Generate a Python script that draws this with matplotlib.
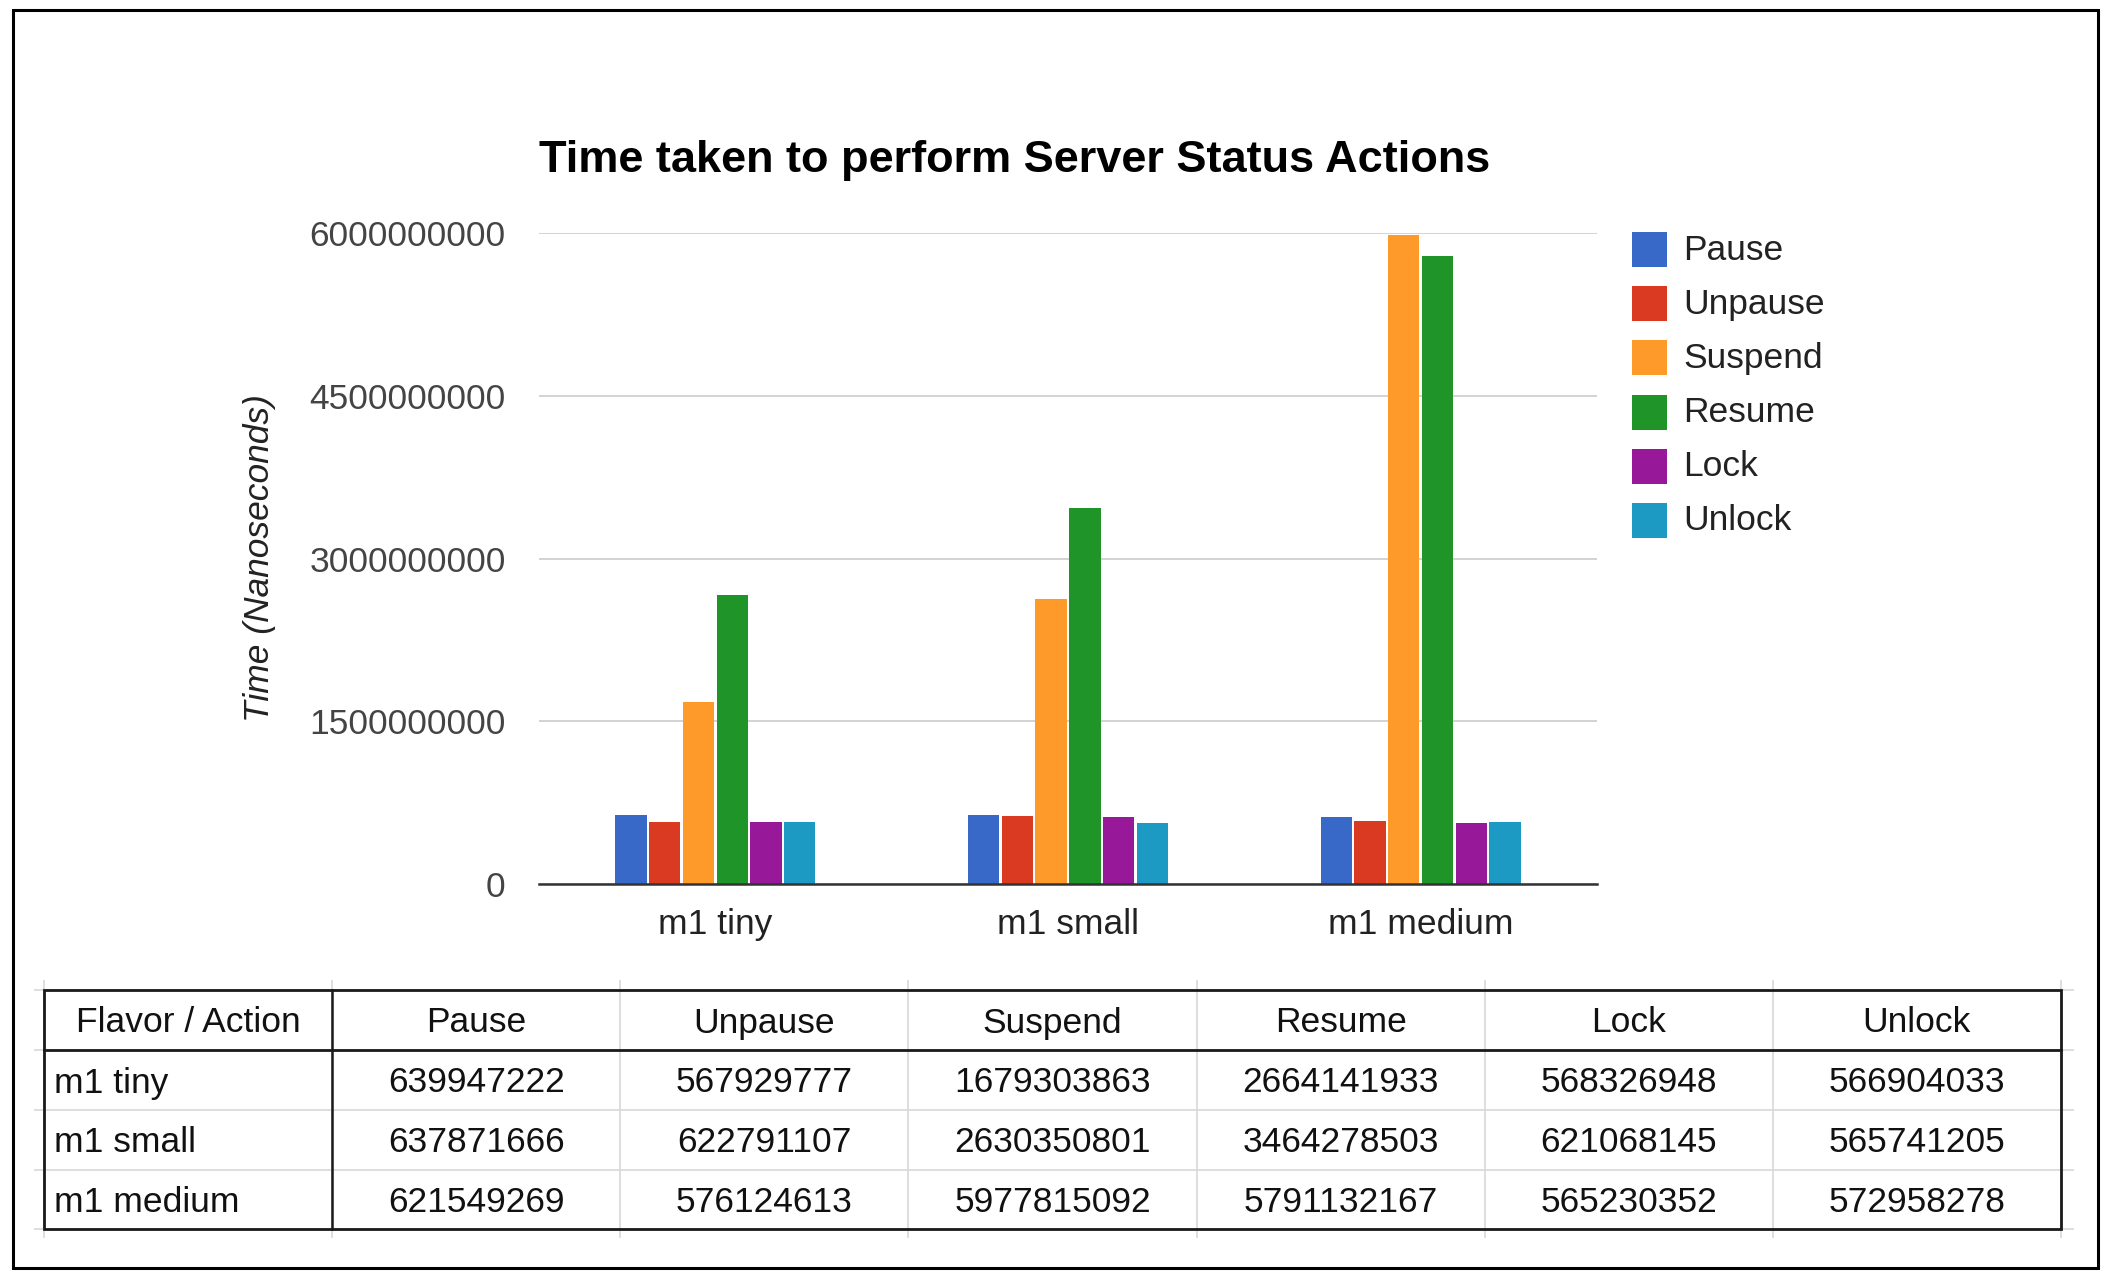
import matplotlib
matplotlib.use("Agg")
import matplotlib.pyplot as plt
from matplotlib.patches import Rectangle
import numpy as np

plt.rcParams['font.family'] = ['Liberation Sans', 'DejaVu Sans']

# ---------------- data ----------------
title = "Time taken to perform Server Status Actions"
y_label = "Time (Nanoseconds)"
flavors = ["m1 tiny", "m1 small", "m1 medium"]
actions = ["Pause", "Unpause", "Suspend", "Resume", "Lock", "Unlock"]
pause = [639947222, 637871666, 621549269]
unpause = [567929777, 622791107, 576124613]
suspend = [1679303863, 2630350801, 5977815092]
resume = [2664141933, 3464278503, 5791132167]
lock = [568326948, 621068145, 565230352]
unlock = [566904033, 565741205, 572958278]
series = [pause, unpause, suspend, resume, lock, unlock]
colors = ['#3869c9', '#da3a21', '#fd9a29', '#1e9429', '#97199a', '#1c9ac4']
y_ticks = [0, 1500000000, 3000000000, 4500000000, 6000000000]
y_tick_labels = ["0", "1500000000", "3000000000", "4500000000", "6000000000"]
table_header = "Flavor / Action"

# ---------------- figure ----------------
W, H = 2112, 1280
fig = plt.figure(figsize=(W / 100, H / 100), dpi=100)
FS = 25.5

ax_l, ax_r, ax_t, ax_b = 539, 1597, 233, 884
ax = fig.add_axes([ax_l / W, 1 - ax_b / H, (ax_r - ax_l) / W, (ax_b - ax_t) / H])
ax.set_zorder(1)

n = len(actions)
pitch = 0.573 / n
x = np.arange(len(flavors))
for i, (vals, c) in enumerate(zip(series, colors)):
    offs = (i - (n - 1) / 2) * pitch
    ax.bar(x + offs, vals, width=pitch * 0.93, color=c, zorder=3, linewidth=0)

ax.set_xlim(-0.5, len(flavors) - 0.5)
ax.set_ylim(0, 6000000000)
ax.set_yticks(y_ticks)
ax.set_yticklabels(y_tick_labels)
ax.set_xticks(x)
ax.set_xticklabels(flavors)
ax.tick_params(axis='y', length=0, pad=24, labelsize=FS, labelcolor='#444444')
ax.tick_params(axis='x', length=0, pad=17, labelsize=FS, labelcolor='#222222')
for sp in ['top', 'right', 'left']:
    ax.spines[sp].set_visible(False)
ax.spines['bottom'].set_color('#333333')
ax.spines['bottom'].set_linewidth(1.8)
ax.spines['bottom'].set_zorder(4)
ax.yaxis.grid(True, color='#cccccc', linewidth=1.2, zorder=0)
ax.set_axisbelow(True)

fig.text(ax_l / W, 1 - 172 / H, title, ha='left', va='baseline',
         fontsize=32.5, fontweight='bold', color='#000000')
fig.text(259 / W, 1 - ((ax_t + ax_b) / 2) / H, y_label, rotation=90,
         ha='center', va='center', fontsize=FS, style='italic', color='#222222')

# ---------------- overlay (legend, table, border) ----------------
ov = fig.add_axes([0, 0, 1, 1])
ov.set_xlim(0, W)
ov.set_ylim(H, 0)
ov.axis('off')
ov.patch.set_alpha(0)
ov.set_zorder(2)

# legend
for i, (name, c) in enumerate(zip(actions, colors)):
    y0 = 232 + 54.2 * i
    ov.add_patch(Rectangle((1632, y0), 35, 35, facecolor=c, edgecolor='none'))
    ov.text(1683, y0 + 18, name, ha='left', va='center', fontsize=FS, color='#222222')

# table
tl, tr = 44, 2061
row_y = [990, 1050, 1110, 1170, 1229]
ncol = len(actions) + 1
col_x = [tl + (tr - tl) * k / ncol for k in range(ncol + 1)]
grid_c = '#d8d8d8'
for yy in row_y:
    ov.plot([34, 2074], [yy, yy], color=grid_c, lw=1.2, solid_capstyle='butt', zorder=1)
for xx in col_x:
    ov.plot([xx, xx], [980, 1238], color=grid_c, lw=1.2, solid_capstyle='butt', zorder=1)
dark = '#1a1a1a'
ov.add_patch(Rectangle((tl, row_y[0]), tr - tl, row_y[-1] - row_y[0],
                       facecolor='none', edgecolor=dark, lw=2.0, zorder=5))
ov.plot([tl, tr], [row_y[1], row_y[1]], color=dark, lw=2.0, zorder=5)
ov.plot([col_x[1], col_x[1]], [row_y[0], row_y[-1]], color=dark, lw=1.8, zorder=5)

def cy(r):
    return (row_y[r] + row_y[r + 1]) / 2 + 3

ov.text((col_x[0] + col_x[1]) / 2, cy(0), table_header, ha='center', va='center',
        fontsize=FS, color='#111111')
for j, a in enumerate(actions):
    ov.text((col_x[j + 1] + col_x[j + 2]) / 2, cy(0), a, ha='center', va='center',
            fontsize=FS, color='#111111')
for r, fl in enumerate(flavors):
    ov.text(54, cy(r + 1), fl, ha='left', va='center', fontsize=FS, color='#111111')
    for j, vals in enumerate(series):
        ov.text((col_x[j + 1] + col_x[j + 2]) / 2, cy(r + 1), str(vals[r]),
                ha='center', va='center', fontsize=FS, color='#111111')

# outer border
ov.add_patch(Rectangle((13, 10), 2098 - 13, 1268 - 10, facecolor='none',
                       edgecolor='#000000', lw=2.2, zorder=6))

fig.savefig("out.png", dpi=100, facecolor='white')
